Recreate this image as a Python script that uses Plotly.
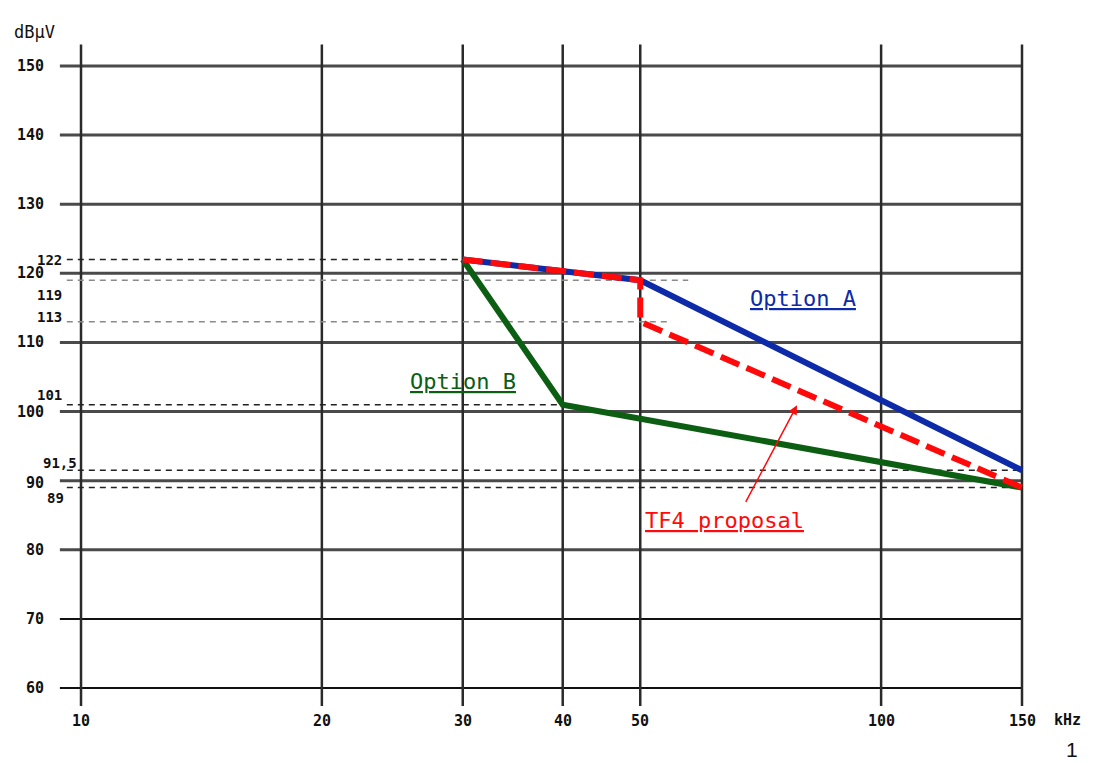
import numpy as np
import plotly.graph_objects as go

# Limit curves (frequency in kHz, level in dBµV)
optA_freq = [30, 50, 150]
optA_level = [122, 119, 91.5]

optB_freq = [30, 40, 150]
optB_level = [122, 101, 89]

tf4_freq = [30, 50, 50, 150]
tf4_level = [122, 119, 113, 89]

# Axis labelling
x_ticks = [10, 20, 30, 40, 50, 100, 150]
y_ticks = [60, 70, 80, 90, 100, 110, 120, 130, 140, 150]

# Marked reference levels: value, label text, right end of the dashed line (kHz)
ref_levels = [122, 119, 113, 101, 91.5, 89]
ref_labels = ["122", "119", "113", "101", "91,5", "89"]
ref_ends = [30, 57.4, 54, 40, 150, 150]

# Layout constants (pixels of a 1110 x 763 canvas)
W, H = 1110, 763
L, R, T, B = 30, 80, 40, 53
X_RANGE = [0.93625, 2.18609]   # log10 kHz
Y_RANGE = [56.82, 153.76]
GRID_LEFT = 9.41      # kHz where horizontal rules start
REF_LEFT = 9.6        # kHz where dashed reference lines start
V_BOTTOM, V_TOP = 57.4, 153.1

MONO = "DejaVu Sans Mono"
TICK_FONT = dict(family=MONO, size=15, color="#111", weight="bold")
REF_FONT = dict(family=MONO, size=14, color="#111", weight="bold")

fig = go.Figure()

# Horizontal grid rules
for v in y_ticks:
    grey = v >= 80
    fig.add_trace(go.Scatter(
        x=[GRID_LEFT, x_ticks[-1]], y=[v, v], mode="lines",
        line=dict(color="#4a4a4a" if grey else "#111111", width=3 if grey else 2),
        hoverinfo="skip", showlegend=False))

# Vertical grid rules
for f in x_ticks:
    fig.add_trace(go.Scatter(
        x=[f, f], y=[V_BOTTOM, V_TOP], mode="lines",
        line=dict(color="#2a2a2a", width=2.5),
        hoverinfo="skip", showlegend=False))

# Dashed reference levels
for v, end in zip(ref_levels, ref_ends):
    grey = v in (119, 113)
    fig.add_trace(go.Scatter(
        x=[REF_LEFT, end], y=[v, v], mode="lines",
        line=dict(color="#8a8a8a" if grey else "#222222", width=1.5,
                  dash="6px,5px"),
        hoverinfo="skip", showlegend=False))

# Curves
fig.add_trace(go.Scatter(x=optB_freq, y=optB_level, mode="lines",
                         line=dict(color="#0b5e12", width=6),
                         name="Option B", showlegend=False))
fig.add_trace(go.Scatter(x=optA_freq, y=optA_level, mode="lines",
                         line=dict(color="#0d2aa8", width=6),
                         name="Option A", showlegend=False))
fig.add_trace(go.Scatter(x=tf4_freq, y=tf4_level, mode="lines",
                         line=dict(color="#ff0a0a", width=6, dash="20px,8px"),
                         name="TF4 proposal", showlegend=False))

annotations = []

def px_x(px):
    return (px - L) / (W - L - R)

def px_y(py):
    return (H - B - py) / (H - T - B)

# y tick labels
for v in y_ticks:
    annotations.append(dict(xref="paper", yref="y", x=px_x(46), y=v,
                            yshift=-2 if v == 90 else 0,
                            text=str(v), showarrow=False, xanchor="right",
                            font=TICK_FONT))

# reference level labels
ref_right = {122: 64, 119: 64, 113: 64, 101: 64, 91.5: 79, 89: 66}
ref_shift = {122: 0, 119: -15, 113: 5, 101: 10, 91.5: 7, 89: -10}
for v, lab in zip(ref_levels, ref_labels):
    annotations.append(dict(xref="paper", yref="y", x=px_x(ref_right[v]), y=v,
                            yshift=ref_shift[v], text=lab, showarrow=False,
                            xanchor="right", font=REF_FONT))

# x tick labels
for f in x_ticks:
    annotations.append(dict(xref="x", yref="paper", x=np.log10(f), y=px_y(732),
                            text=str(f), showarrow=False, font=TICK_FONT))

# unit labels
annotations.append(dict(xref="paper", yref="paper", x=px_x(12), y=px_y(20),
                        text="dBµV", showarrow=False, xanchor="left",
                        font=dict(family=MONO, size=17, color="#111")))
annotations.append(dict(xref="paper", yref="paper", x=px_x(1083), y=px_y(731),
                        text="kHz", showarrow=False, font=TICK_FONT))
annotations.append(dict(xref="paper", yref="paper", x=px_x(1080), y=px_y(763),
                        yanchor="bottom", text="1", showarrow=False,
                        font=dict(family="Liberation Sans", size=21, color="#111")))

# curve names
annotations.append(dict(xref="x", yref="y", x=np.log10(79.9), y=116.4,
                        text="<u>Option A</u>", showarrow=False,
                        font=dict(family=MONO, size=22, color="#0d2aa8")))
annotations.append(dict(xref="x", yref="y", x=np.log10(30.0), y=104.4,
                        text="<u>Option B</u>", showarrow=False,
                        font=dict(family=MONO, size=22, color="#0b5e12")))
annotations.append(dict(xref="x", yref="y", x=np.log10(63.8), y=84.3,
                        text="<u>TF4 proposal</u>", showarrow=False,
                        font=dict(family=MONO, size=22, color="#ff0a0a")))
# pointer to the TF4 curve
annotations.append(dict(xref="x", yref="y", x=np.log10(78.5), y=100.9,
                        text="", showarrow=True, ax=-52, ay=98,
                        arrowhead=2, arrowsize=1.2, arrowwidth=1.5,
                        arrowcolor="#ff0a0a"))

fig.update_layout(
    width=W, height=H,
    margin=dict(l=L, r=R, t=T, b=B),
    paper_bgcolor="white", plot_bgcolor="white",
    xaxis=dict(type="log", range=X_RANGE, visible=False, fixedrange=True),
    yaxis=dict(range=Y_RANGE, visible=False, fixedrange=True),
    annotations=annotations,
    showlegend=False,
)

fig.write_html("out.html")
